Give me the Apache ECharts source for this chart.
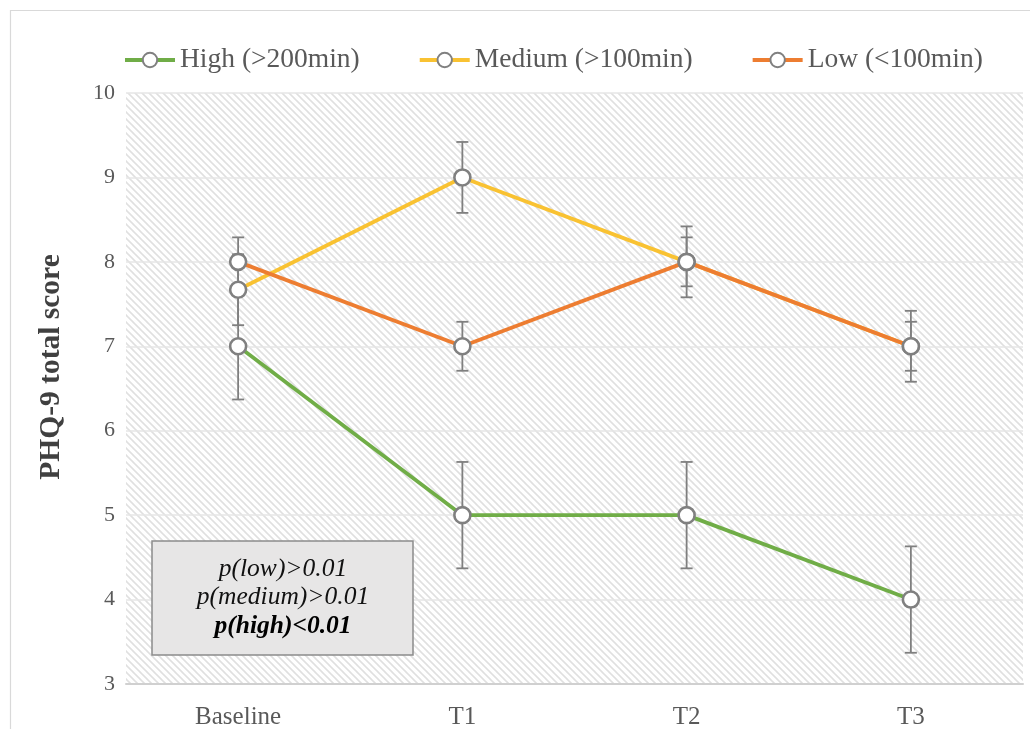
<!DOCTYPE html>
<html>
<head>
<meta charset="utf-8">
<script src="https://cdn.jsdelivr.net/npm/echarts@6/dist/echarts.min.js"></script>
<style>
html,body{margin:0;padding:0;background:#fff;}
#c{width:1030px;height:729px;}
</style>
</head>
<body>
<div id="c"></div>
<script>
// ---- data ----
const categories = ['Baseline', 'T1', 'T2', 'T3'];
const seriesNames = ['High (>200min)', 'Medium (>100min)', 'Low (<100min)'];
const highValues = [7, 5, 5, 4];
const highErrors = [0.63, 0.63, 0.63, 0.63];
const mediumValues = [7.67, 9, 8, 7];
const mediumErrors = [0.42, 0.42, 0.42, 0.42];
const lowValues = [8, 7, 8, 7];
const lowErrors = [0.29, 0.29, 0.29, 0.29];
const yTicks = { min: 3, max: 10, interval: 1 };
const yTitle = 'PHQ-9 total score';
const noteLines = ['p(low)>0.01', 'p(medium)>0.01', 'p(high)<0.01'];

// ---- styles ----
const lineColors = ['#70ad47', '#f9c232', '#ed7d31'];
const serif = '"Liberation Serif", "Times New Roman", serif';

// hatch pattern tile
function hatchTile() {
  const s = 7;
  const cv = document.createElement('canvas');
  cv.width = s; cv.height = s;
  const ctx = cv.getContext('2d');
  ctx.fillStyle = '#ffffff';
  ctx.fillRect(0, 0, s, s);
  ctx.strokeStyle = '#e0e0e0';
  ctx.lineWidth = 1.6;
  for (let k = -1; k <= 1; k++) {
    ctx.beginPath();
    ctx.moveTo(-2, -2 + k * s);
    ctx.lineTo(s + 2, s + 2 + k * s);
    ctx.stroke();
  }
  return cv;
}

function errorSeries(values, errors, name) {
  return {
    type: 'custom',
    name: name + ' err',
    z: 2,
    silent: true,
    data: values.map((v, i) => [i, v - errors[i], v + errors[i]]),
    renderItem: function (params, api) {
      const x = api.value(0);
      const lo = api.coord([x, api.value(1)]);
      const hi = api.coord([x, api.value(2)]);
      const w = 6;
      const style = { stroke: '#7f7f7f', lineWidth: 1.8, fill: null };
      return {
        type: 'group',
        children: [
          { type: 'line', shape: { x1: lo[0], y1: lo[1], x2: hi[0], y2: hi[1] }, style: style },
          { type: 'line', shape: { x1: lo[0] - w, y1: lo[1], x2: lo[0] + w, y2: lo[1] }, style: style },
          { type: 'line', shape: { x1: hi[0] - w, y1: hi[1], x2: hi[0] + w, y2: hi[1] }, style: style }
        ]
      };
    }
  };
}

function lineSeries(values, name, color) {
  return {
    type: 'line',
    name: name,
    data: values,
    z: 3,
    symbol: 'circle',
    symbolSize: 16,
    showAllSymbol: true,
    lineStyle: { color: color, width: 3.8 },
    itemStyle: { color: '#ffffff', borderColor: '#808080', borderWidth: 2.6 },
    emphasis: { disabled: true },
    animation: false
  };
}

const chart = echarts.init(document.getElementById('c'), null, { renderer: 'canvas' });

const noteStyle = { fontFamily: serif, fontStyle: 'italic', fontSize: 25.5, fill: '#111', align: 'center', verticalAlign: 'middle' };

const option = {
  animation: false,
  grid: {
    left: 126, right: 7, top: 93, bottom: 45,
    containLabel: false,
    outerBoundsMode: 'none',
    show: true,
    borderWidth: 0,
    backgroundColor: { image: hatchTile(), repeat: 'repeat' }
  },
  legend: {
    top: 41,
    left: 118,
    itemGap: 58,
    itemWidth: 50,
    itemHeight: 18,
    data: seriesNames,
    lineStyle: { width: 4 },
    textStyle: { fontFamily: serif, fontSize: 27.5, color: '#595959' }
  },
  xAxis: {
    type: 'category',
    data: categories,
    boundaryGap: true,
    axisLine: { show: true, lineStyle: { color: '#d0d0d0', width: 2 } },
    axisTick: { show: false },
    axisLabel: { fontFamily: serif, fontSize: 25, color: '#595959', margin: 21 },
    splitLine: { show: false }
  },
  yAxis: {
    type: 'value',
    min: yTicks.min, max: yTicks.max, interval: yTicks.interval,
    axisLine: { show: false },
    axisTick: { show: false },
    axisLabel: { fontFamily: serif, fontSize: 22, color: '#595959', margin: 11 },
    splitLine: { show: true, lineStyle: { color: '#e6e6e6', width: 1.5 } }
  },
  graphic: [
    {
      type: 'rect', left: 8, top: 8, silent: true, z: -10,
      shape: { width: 1040, height: 760 },
      style: { fill: null, stroke: '#d9d9d9', lineWidth: 1.2 }
    },
    {
      type: 'text', x: 51, y: 367, rotation: Math.PI / 2, z: 100,
      style: { text: yTitle, fontFamily: serif, fontWeight: 'bold', fontSize: 29.5, fill: '#404040', align: 'center', verticalAlign: 'middle' }
    },
    {
      type: 'rect', x: 152, y: 541, z: 100,
      shape: { x: 0, y: 0, width: 261, height: 114 },
      style: { fill: '#e7e6e6', stroke: '#8c8c8c', lineWidth: 1.5 }
    },
    {
      type: 'text', x: 283, y: 569, z: 101,
      style: Object.assign({}, noteStyle, { text: noteLines[0] })
    },
    {
      type: 'text', x: 283, y: 597, z: 101,
      style: Object.assign({}, noteStyle, { text: noteLines[1] })
    },
    {
      type: 'text', x: 283, y: 626, z: 101,
      style: Object.assign({}, noteStyle, { text: noteLines[2], fontWeight: 'bold', fill: '#000' })
    }
  ],
  series: [
    errorSeries(highValues, highErrors, seriesNames[0]),
    errorSeries(mediumValues, mediumErrors, seriesNames[1]),
    errorSeries(lowValues, lowErrors, seriesNames[2]),
    lineSeries(highValues, seriesNames[0], lineColors[0]),
    lineSeries(mediumValues, seriesNames[1], lineColors[1]),
    lineSeries(lowValues, seriesNames[2], lineColors[2])
  ]
};
chart.setOption(option);
</script>
</body>
</html>
